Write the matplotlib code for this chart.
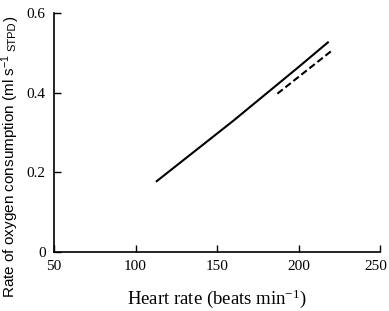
import matplotlib
matplotlib.use("Agg")
import matplotlib.pyplot as plt
import matplotlib.transforms as mtransforms

plt.rcParams['font.family'] = 'Liberation Serif'

# solid line: oxygen consumption vs heart rate
hr_solid = [113, 160, 200, 218]
vo2_solid = [0.178, 0.330, 0.465, 0.527]

# dashed line
hr_dash = [187, 220]
vo2_dash = [0.398, 0.505]

xticks = [50, 100, 150, 200, 250]
yticks = [0, 0.2, 0.4, 0.6]
yticklabels = ['0', '0.2', '0.4', '0.6']

fig = plt.figure(figsize=(3.89, 3.11), dpi=100)
ax = fig.add_axes([0.139, 0.19, 0.838, 0.767])

ax.plot(hr_solid, vo2_solid, color='black', lw=1.5)
ax.plot(hr_dash, vo2_dash, color='black', lw=1.5, ls=(0, (3.3, 1.6)))

ax.set_xlim(50, 250)
ax.set_ylim(0, 0.6)
ax.set_xticks(xticks)
ax.set_yticks(yticks)
ax.set_yticklabels(yticklabels)
ax.tick_params(direction='in', length=5, width=1, labelsize=11, pad=6)
ax.spines['top'].set_visible(False)
ax.spines['right'].set_visible(False)
ax.spines['left'].set_linewidth(1.2)
ax.spines['bottom'].set_linewidth(1.2)

# last x label sits a little left of its tick in the original
lab = ax.get_xticklabels()[-1]
lab.set_transform(lab.get_transform() + mtransforms.ScaledTranslation(-4 / 100, 0, fig.dpi_scale_trans))

ax.set_xlabel(r'Heart rate (beats min$\mathregular{^{-1}}$)', fontsize=13.5, labelpad=10)

# y label in sans, with small-caps STPD on the baseline, built from pieces
renderer = fig.canvas.get_renderer()
W, H = fig.bbox.width, fig.bbox.height
bx = 15 / W
y = 298
pieces = [(r'Rate of oxygen consumption (ml s$\mathregular{^{-1}}$', 11, 2.5),
          ('STPD', 8, 0.5),
          (')', 11, 0)]
for txt, size, gap in pieces:
    t = fig.text(bx, 1 - y / H, txt, rotation=90, rotation_mode='anchor',
                 ha='left', va='baseline', family='Liberation Sans', fontsize=size)
    bb = t.get_window_extent(renderer)
    y = H - bb.y1 - gap

fig.savefig('out.png', dpi=100)
